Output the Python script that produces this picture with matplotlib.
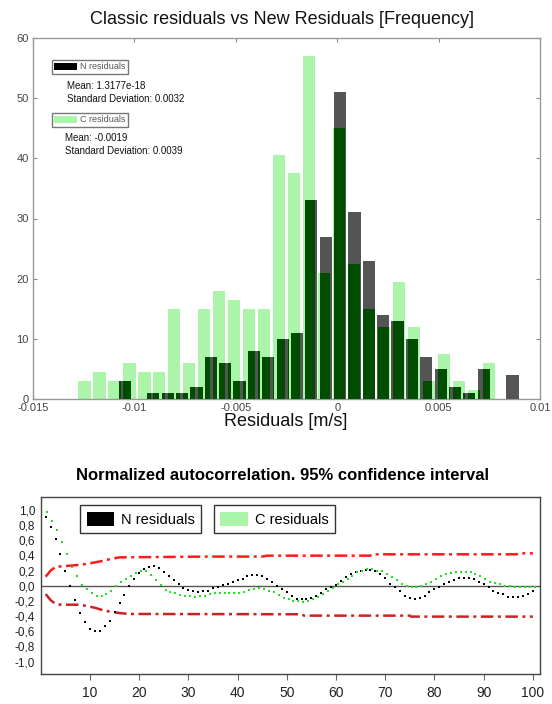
import numpy as np
import matplotlib
matplotlib.use('Agg')
from matplotlib import pyplot as plt
from matplotlib.patches import Patch

# histogram counts (28 bins each, own range per series)
n_counts = [3, 0, 1, 1, 1, 2, 7, 6, 3, 8, 7, 10, 11, 33, 27, 51, 31, 23, 14, 13,
            10, 7, 5, 2, 1, 5, 0, 4]
c_counts = [3, 4.5, 3, 6, 4.5, 4.5, 15, 6, 15, 18, 16.5, 15, 15, 40.5, 37.5, 57,
            21, 45, 22.5, 15, 12, 19.5, 12, 3, 7.5, 3, 1.5, 6]
n_range = (-0.01048, 0.00864)
c_range = (-0.01246, 0.00748)
hist_xticks = [-0.015, -0.01, -0.005, 0, 0.005, 0.01]
hist_xlabels = ['-0.015', '-0.01', '-0.005', '0', '0.005', '0.01']
n_stats = ['Mean: 1.3177e-18', 'Standard Deviation: 0.0032']
c_stats = ['Mean: -0.0019', 'Standard Deviation: 0.0039']

# autocorrelation, lags 1..100
lags = np.arange(1, 101)
n_acf = [0.91, 0.78, 0.62, 0.415, 0.19, 0.0, -0.19, -0.36, -0.48, -0.57,
         -0.60, -0.60, -0.53, -0.46, -0.35, -0.23, -0.12, 0.0, 0.09, 0.165,
         0.22, 0.25, 0.266, 0.23, 0.18, 0.13, 0.07, 0.02, -0.03, -0.06,
         -0.075, -0.08, -0.07, -0.064, -0.033, -0.011, 0.005, 0.02, 0.046, 0.077,
         0.09, 0.13, 0.14, 0.14, 0.13, 0.09, 0.046, 0.0, -0.044, -0.088,
         -0.134, -0.17, -0.18, -0.18, -0.167, -0.134, -0.09, -0.046, -0.02, 0.01,
         0.068, 0.11, 0.15, 0.178, 0.195, 0.208, 0.21, 0.2, 0.15, 0.1,
         0.024, -0.011, -0.07, -0.13, -0.165, -0.174, -0.165, -0.13, -0.086, -0.046,
         -0.011, 0.02, 0.055, 0.077, 0.1, 0.107, 0.107, 0.09, 0.055, 0.02,
         -0.02, -0.064, -0.09, -0.108, -0.143, -0.15, -0.15, -0.134, -0.108, -0.064]
c_acf = [0.97, 0.86, 0.735, 0.573, 0.415, 0.25, 0.125, 0.01, -0.045, -0.10,
         -0.13, -0.13, -0.108, -0.064, 0.0, 0.045, 0.09, 0.13, 0.165, 0.2,
         0.19, 0.14, 0.07, 0.01, -0.05, -0.08, -0.1, -0.12, -0.13, -0.14,
         -0.145, -0.14, -0.13, -0.108, -0.09, -0.09, -0.09, -0.09, -0.09, -0.09,
         -0.077, -0.055, -0.046, -0.033, -0.042, -0.064, -0.086, -0.12, -0.157, -0.174,
         -0.196, -0.2, -0.21, -0.196, -0.174, -0.152, -0.113, -0.07, -0.024, 0.02,
         0.055, 0.086, 0.134, 0.178, 0.2, 0.22, 0.222, 0.2, 0.19, 0.15,
         0.12, 0.077, 0.024, 0.0, -0.011, -0.011, 0.0, 0.024, 0.046, 0.086,
         0.13, 0.156, 0.174, 0.178, 0.178, 0.178, 0.178, 0.15, 0.13, 0.086,
         0.055, 0.042, 0.024, 0.0, 0.0, -0.011, -0.011, -0.011, -0.011, -0.011]

# confidence bounds read at breakpoints
up_lags = [1, 2, 3, 6, 9, 12, 14, 16, 34, 45, 46, 67, 67.3, 96.7, 97, 100]
up_vals = [0.12, 0.2, 0.25, 0.265, 0.285, 0.32, 0.35, 0.375, 0.385, 0.385,
           0.397, 0.397, 0.415, 0.415, 0.428, 0.428]
lo_lags = [1, 2, 3, 4, 8, 11, 13, 15, 16, 18, 53, 53.5, 75, 75.3, 100]
lo_vals = [-0.11, -0.19, -0.24, -0.25, -0.25, -0.29, -0.33, -0.35, -0.36, -0.372,
           -0.376, -0.394, -0.394, -0.407, -0.407]
acf_yticks = [1.0, 0.8, 0.6, 0.4, 0.2, 0.0, -0.2, -0.4, -0.6, -0.8, -1.0]
acf_xticks = [10, 20, 30, 40, 50, 60, 70, 80, 90, 100]

light_green = '#aaf5aa'
grey_bar = '#555555'
dark_green = '#004c00'
narrow = ['Liberation Sans Narrow', 'Liberation Sans', 'DejaVu Sans']
plt.rcParams['font.family'] = ['Liberation Sans', 'DejaVu Sans']

fig = plt.figure(figsize=(5.52, 7.04), dpi=100)
W, H = 552.0, 704.0

# ---------------- top: histogram
ax1 = fig.add_axes([33 / W, 1 - 399 / H, 507 / W, 361 / H])
bw = 0.0006
n_x = np.linspace(n_range[0], n_range[1], len(n_counts))
c_x = np.linspace(c_range[0], c_range[1], len(c_counts))
ax1.bar(c_x, c_counts, width=bw, color=light_green, edgecolor='none', zorder=2)
ax1.bar(n_x, n_counts, width=bw, color=grey_bar, edgecolor='none', zorder=3)
# where both series overlap draw dark green
for xb, hb in zip(n_x, n_counts):
    for xg, hg in zip(c_x, c_counts):
        left = max(xb, xg) - bw / 2
        right = min(xb, xg) + bw / 2
        h = min(hb, hg)
        if right > left and h > 0:
            ax1.bar(left, h, width=right - left, align='edge',
                    color=dark_green, edgecolor='none', zorder=4)

ax1.set_xlim(-0.015, 0.01)
ax1.set_ylim(0, 60)
ax1.set_xticks(hist_xticks)
ax1.set_xticklabels(hist_xlabels)
ax1.set_yticks(range(0, 61, 10))
ax1.tick_params(direction='in', length=3, width=0.8, color='#888888',
                labelsize=8, labelcolor='#444444', top=True, right=True, pad=3)
for s in ax1.spines.values():
    s.set_color('#999999')
    s.set_linewidth(1.0)

small_leg = dict(loc='upper left', borderaxespad=0, fontsize=6.5, handlelength=2.5,
                 handleheight=0.9, handletextpad=0.35, borderpad=0.3,
                 fancybox=False, edgecolor='#777777', framealpha=1)
leg_n = ax1.legend(handles=[Patch(facecolor='black', edgecolor='none', label='N residuals')],
                   bbox_to_anchor=(0.037, 0.94), **small_leg)
for t in leg_n.get_texts():
    t.set_color('#555555')
ax1.add_artist(leg_n)
leg_c = ax1.legend(handles=[Patch(facecolor=light_green, edgecolor='none', label='C residuals')],
                   bbox_to_anchor=(0.037, 0.793), **small_leg)
for t in leg_c.get_texts():
    t.set_color('#555555')

for i, s in enumerate(n_stats):
    fig.text(67 / W, 1 - (86 + 13.5 * i) / H, s, fontsize=7, va='center', color='#111111')
for i, s in enumerate(c_stats):
    fig.text(65 / W, 1 - (138 + 13.5 * i) / H, s, fontsize=7, va='center', color='#111111')

fig.text(282 / W, 1 - 20 / H, 'Classic residuals vs New Residuals [Frequency]',
         fontsize=13, ha='center', va='center', color='#111111')
fig.text(286 / W, 1 - 421 / H, 'Residuals [m/s]', fontsize=13, ha='center',
         va='center', color='#111111')

# ---------------- bottom: autocorrelation
ax2 = fig.add_axes([40.8 / W, 1 - 674 / H, 498.9 / W, 176.7 / H])
ax2.axhline(0, color='#555555', lw=1.0, zorder=1)
ax2.plot(up_lags, up_vals, color='#ff1a1a', lw=1.8, dashes=(5, 1.8, 1.2, 1.8), zorder=2)
ax2.plot(lo_lags, lo_vals, color='#cc2222', lw=1.8, dashes=(5, 1.8, 1.2, 1.8), zorder=2)
ax2.plot(lags, n_acf, 's', color='black', ms=2.0, mew=0, zorder=3)
ax2.plot(lags + 0.35, c_acf, 's', color='#22e022', ms=2.0, mew=0, zorder=3)
ax2.set_xlim(0, 101.4)
ax2.set_ylim(-1.164, 1.167)
ax2.set_yticks(acf_yticks)
ax2.set_yticklabels([('%.1f' % v).replace('.', ',') for v in acf_yticks],
                    family=narrow, fontsize=8.5, color='#222222')
ax2.set_xticks(acf_xticks)
ax2.set_xticklabels([str(v) for v in acf_xticks], family=narrow, fontsize=10,
                    color='#222222')
ax2.tick_params(axis='y', length=0, pad=4)
ax2.tick_params(axis='x', direction='out', length=4, width=0.8, color='#666666', pad=4.5)
for s in ax2.spines.values():
    s.set_color('#444444')
    s.set_linewidth(1.0)

big_leg = dict(loc='upper left', borderaxespad=0, prop={'family': narrow, 'size': 10.5},
               handlelength=1.9, handleheight=1.1, handletextpad=0.45, borderpad=0.45,
               fancybox=False, edgecolor='#333333', framealpha=1)
leg1 = ax2.legend(handles=[Patch(facecolor='black', edgecolor='none', label='N residuals')],
                  bbox_to_anchor=(0.079, 0.956), **big_leg)
ax2.add_artist(leg1)
ax2.legend(handles=[Patch(facecolor=light_green, edgecolor='none', label='C residuals')],
           bbox_to_anchor=(0.347, 0.956), **big_leg)

fig.text(283 / W, 1 - 475 / H, 'Normalized autocorrelation. 95% confidence interval',
         family=narrow, fontsize=12, fontweight='bold', ha='center', va='center')

fig.savefig('out.png', dpi=100)
